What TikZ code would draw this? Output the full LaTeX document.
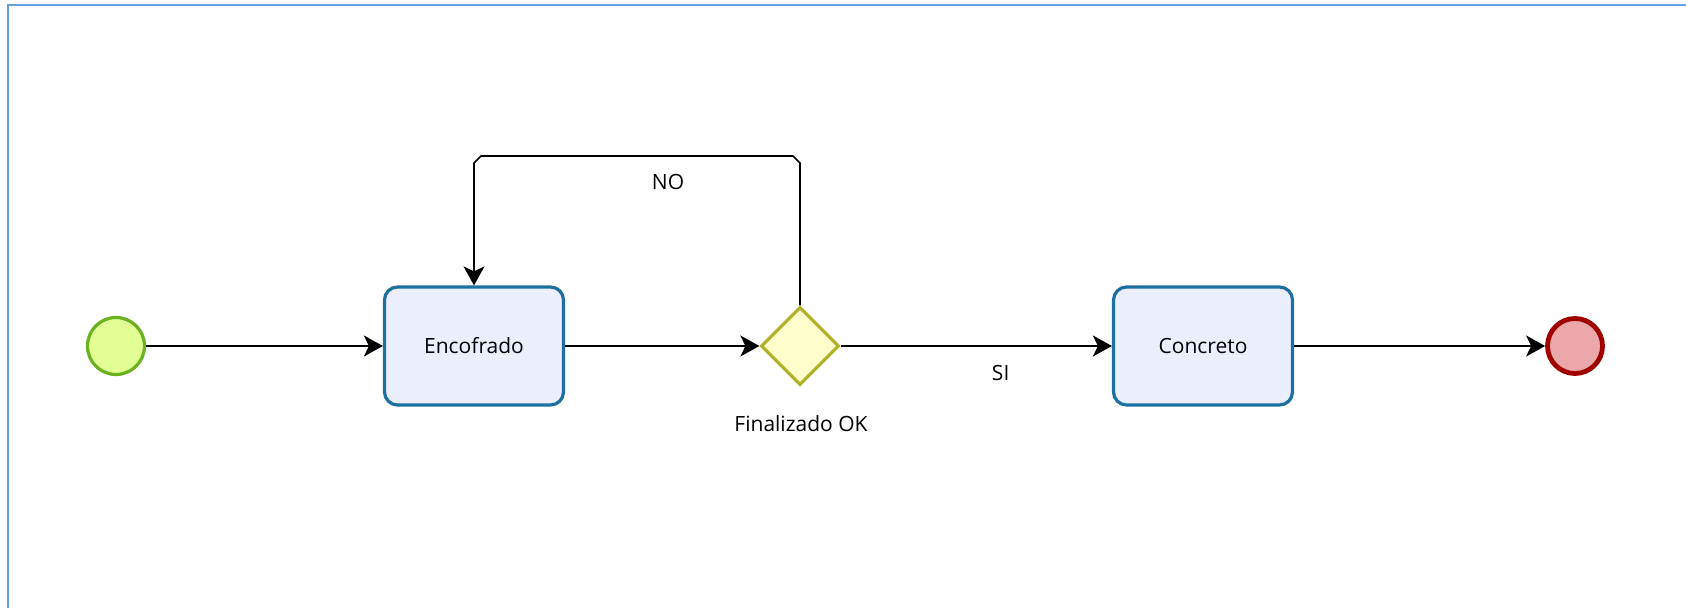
\documentclass[tikz,border=0pt]{standalone}
\usepackage{fontspec}
\setmainfont{Open Sans}
\usetikzlibrary{shapes.geometric,arrows.meta,calc}

\definecolor{frameblue}{RGB}{100,160,228}
\definecolor{taskline}{RGB}{30,112,160}
\definecolor{taskfill}{RGB}{234,238,253}
\definecolor{startline}{RGB}{108,178,32}
\definecolor{startfill}{RGB}{226,255,150}
\definecolor{endline}{RGB}{160,0,0}
\definecolor{endfill}{RGB}{236,168,168}
\definecolor{gateline}{RGB}{178,178,40}
\definecolor{gatefill}{RGB}{255,255,204}

\begin{document}
\begin{tikzpicture}[x=0.5pt,y=-0.5pt,
  every node/.style={font=\fontsize{10.5}{12}\selectfont},
  task/.style={draw=taskline,fill=taskfill,line width=1.6pt,rounded corners=6.5pt,
    minimum width=89.5pt,minimum height=59pt,inner sep=0pt},
  startev/.style={circle,draw=startline,fill=startfill,line width=1.6pt,minimum size=28.5pt,inner sep=0pt},
  endev/.style={circle,draw=endline,fill=endfill,line width=2.4pt,minimum size=27.5pt,inner sep=0pt},
  gate/.style={diamond,draw=gateline,fill=gatefill,line width=1.6pt,aspect=1,
    minimum width=39pt,minimum height=39pt,inner sep=0pt},
  flow/.style={draw=black,line width=0.8pt,-{Stealth[length=9.5pt,width=10.5pt,inset=2.5pt]}},
  lbl/.style={inner sep=0pt}]

% canvas and its frame
\useasboundingbox (0,0) rectangle (1686,608);
\draw[frameblue,line width=1.3pt] (8,608) -- (8,5) -- (1686,5);

% events, tasks and gateway
\node[startev] (start) at (116,346) {};
\node[task] (enc) at (474,346) {Encofrado};
\node[gate] (gw) at (800,346) {};
\node[task] (con) at (1203,346) {Concreto};
\node[endev] (fin) at (1575,346) {};

\node[lbl] (gwl) at (801,424) {Finalizado OK};

% sequence flows
\draw[flow] (start) -- (enc);
\draw[flow] (enc) -- (gw);
\draw[flow] (gw) -- (con) node[lbl,pos=0.59,below=9pt] (si) {SI};
\draw[flow] (con) -- (fin);

% loop back when not finished
\coordinate (ur) at (800,156);
\coordinate (ul) at (474,156);
\draw[flow] (gw.north) -- ($(ur)+(0,7)$) -- ($(ur)+(-7,0)$)
  -- ($(ul)+(7,0)$) -- ($(ul)+(0,7)$) -- (enc.north);
\node[lbl] (no) at (668,182) {NO};
\end{tikzpicture}
\end{document}
